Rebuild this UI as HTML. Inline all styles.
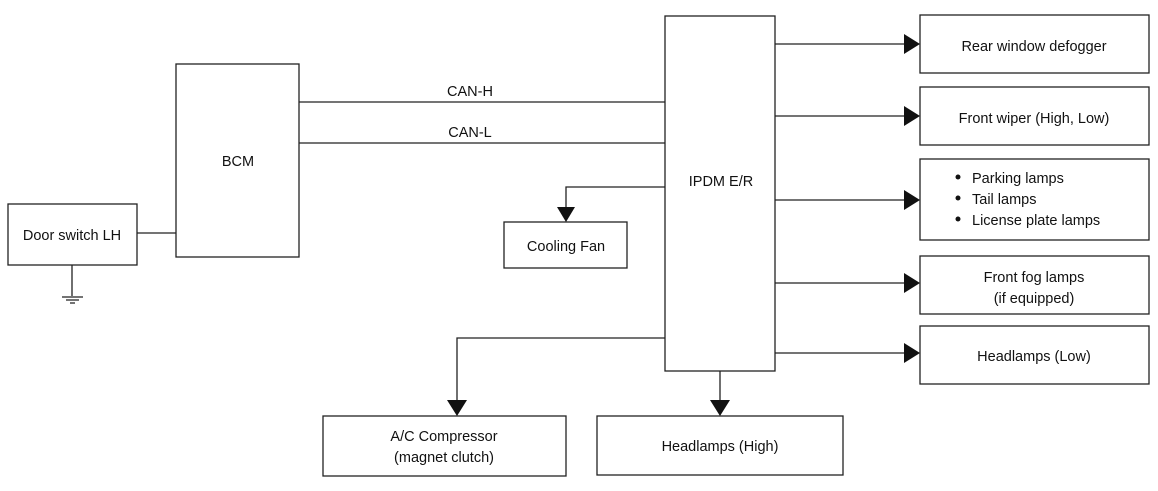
<!DOCTYPE html>
<html><head><meta charset="utf-8"><style>
body{margin:0;background:#fff;}
svg text{font-family:"Liberation Sans",sans-serif;font-size:14.5px;fill:#111;}
</style></head><body>
<svg width="1158" height="486" viewBox="0 0 1158 486" xmlns="http://www.w3.org/2000/svg">
<g fill="none" stroke="#222" stroke-width="1.3">
<rect x="8" y="204" width="129" height="61"/>
<rect x="176" y="64" width="123" height="193"/>
<rect x="665" y="16" width="110" height="355"/>
<rect x="504" y="222" width="123" height="46"/>
<rect x="323" y="416" width="243" height="60"/>
<rect x="597" y="416" width="246" height="59"/>
<rect x="920" y="15" width="229" height="58"/>
<rect x="920" y="87" width="229" height="58"/>
<rect x="920" y="159" width="229" height="81"/>
<rect x="920" y="256" width="229" height="58"/>
<rect x="920" y="326" width="229" height="58"/>
<path d="M137 233H176M72 265V296M299 102H665M299 143H665"/>
<path d="M665 187H566V210M665 338H457V402M720 371V402"/>
<path d="M775 44H906M775 116H906M775 200H906M775 283H906M775 353H906"/>
<path d="M62 297H83M66 300H79M70 303H75"/>
</g>
<g fill="#111">
<path d="M557 207H575L566 222Z"/>
<path d="M447 400H467L457 416Z"/>
<path d="M710 400H730L720 416Z"/>
<path d="M904 34V54L920 44Z"/>
<path d="M904 106V126L920 116Z"/>
<path d="M904 190V210L920 200Z"/>
<path d="M904 273V293L920 283Z"/>
<path d="M904 343V363L920 353Z"/>
</g>
<text x="72" y="240" text-anchor="middle">Door switch LH</text>
<text x="238" y="166" text-anchor="middle">BCM</text>
<text x="470" y="96" text-anchor="middle">CAN-H</text>
<text x="470" y="137" text-anchor="middle">CAN-L</text>
<text x="721" y="186" text-anchor="middle">IPDM E/R</text>
<text x="566" y="251" text-anchor="middle">Cooling Fan</text>
<text x="444" y="441" text-anchor="middle">A/C Compressor</text>
<text x="444" y="462" text-anchor="middle">(magnet clutch)</text>
<text x="720" y="451" text-anchor="middle">Headlamps (High)</text>
<text x="1034" y="51" text-anchor="middle">Rear window defogger</text>
<text x="1034" y="123" text-anchor="middle">Front wiper (High, Low)</text>
<text x="972" y="183">Parking lamps</text>
<text x="972" y="204">Tail lamps</text>
<text x="972" y="225">License plate lamps</text>
<circle cx="958" cy="177" r="2.5" fill="#111"/>
<circle cx="958" cy="198" r="2.5" fill="#111"/>
<circle cx="958" cy="219" r="2.5" fill="#111"/>
<text x="1034" y="282" text-anchor="middle">Front fog lamps</text>
<text x="1034" y="303" text-anchor="middle">(if equipped)</text>
<text x="1034" y="361" text-anchor="middle">Headlamps (Low)</text>
</svg>
</body></html>
